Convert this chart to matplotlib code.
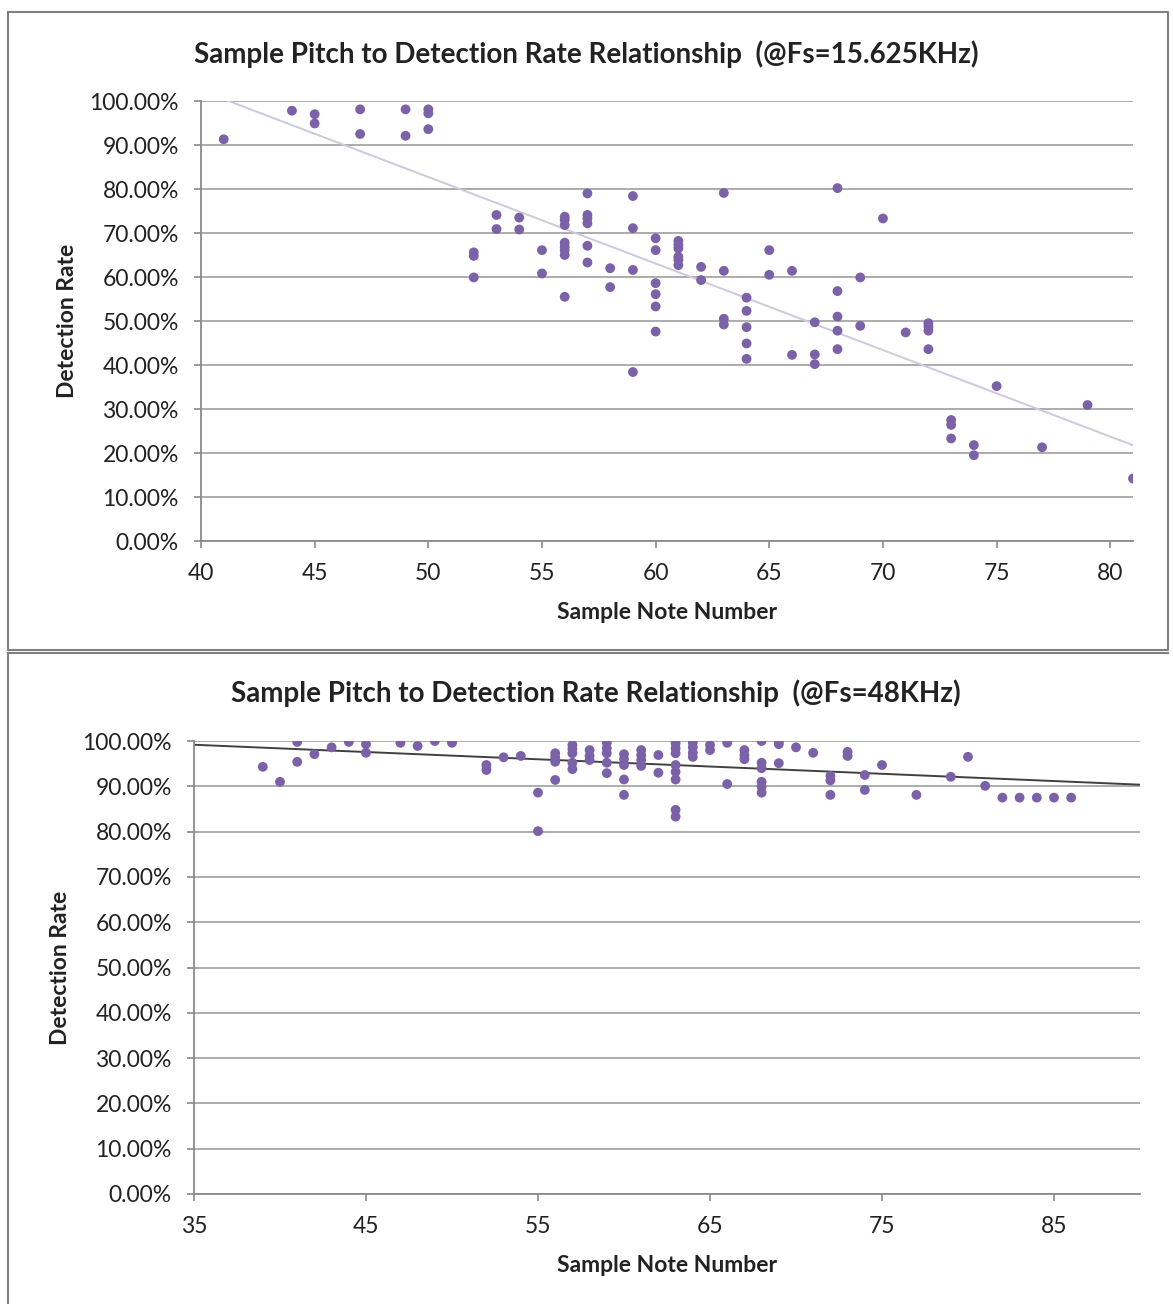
import matplotlib
matplotlib.use("Agg")
import matplotlib.pyplot as plt
import numpy as np
from matplotlib.lines import Line2D
from matplotlib.ticker import MultipleLocator, PercentFormatter

plt.rcParams["font.family"] = ["Lato", "DejaVu Sans"]

# Fs = 15.625 kHz: note number vs detection rate (%)
low_notes = [41, 44, 45, 45, 47, 47, 49, 49, 50, 50, 50,
             52, 52, 52, 53, 53, 54, 54, 55, 55,
             56, 56, 56, 56, 56, 56, 56, 56,
             57, 57, 57, 57, 57, 57, 58, 58,
             59, 59, 59, 59, 60, 60, 60, 60, 60, 60,
             61, 61, 61, 61, 61, 61, 62, 62,
             63, 63, 63, 63, 64, 64, 64, 64, 64, 65, 65,
             66, 66, 67, 67, 67, 68, 68, 68, 68, 68, 69, 69,
             70, 71, 72, 72, 72, 72, 73, 73, 73, 74, 74,
             75, 77, 79, 81]
low_rates = [91.3, 97.8, 97.0, 94.9, 98.1, 92.5, 98.1, 92.1, 98.1, 97.2, 93.6,
             65.6, 64.8, 59.9, 74.1, 70.9, 73.5, 70.8, 66.1, 60.8,
             73.7, 73.0, 71.8, 67.8, 66.9, 66.1, 65.0, 55.5,
             79.0, 74.1, 73.3, 72.2, 67.1, 63.3, 62.0, 57.7,
             78.4, 71.1, 61.6, 38.4, 68.8, 66.1, 58.6, 56.1, 53.3, 47.6,
             68.2, 67.3, 66.5, 64.6, 63.9, 62.7, 62.3, 59.3,
             79.1, 61.4, 50.5, 49.2, 55.3, 52.3, 48.6, 44.9, 41.4, 66.1, 60.5,
             61.4, 42.3, 49.7, 42.4, 40.2, 80.2, 56.8, 51.0, 47.8, 43.6, 59.9, 48.9,
             73.3, 47.4, 49.5, 48.7, 47.8, 43.6, 27.5, 26.4, 23.3, 21.8, 19.5,
             35.2, 21.3, 30.9, 14.2]

# Fs = 48 kHz
high_notes = [39, 40, 41, 41, 42, 43, 44, 45, 45, 47, 48, 49, 50, 50,
              52, 52, 53, 54, 55, 55, 56, 56, 56, 56,
              57, 57, 57, 57, 57, 58, 58, 58,
              59, 59, 59, 59, 59, 60, 60, 60, 60, 60,
              61, 61, 61, 61, 62, 62,
              63, 63, 63, 63, 63, 63, 63, 63,
              64, 64, 64, 64, 65, 65, 66, 66, 67, 67, 67,
              68, 68, 68, 68, 68, 68, 69, 69, 69, 70, 71,
              72, 72, 72, 73, 73, 74, 74, 75, 77, 79, 80, 81,
              82, 83, 84, 85, 86]
high_rates = [94.3, 91.0, 99.8, 95.4, 97.1, 98.6, 99.8, 99.3, 97.4, 99.6, 98.9, 100.0, 100.0, 99.6,
              94.7, 93.6, 96.4, 96.7, 88.6, 80.1, 97.3, 96.4, 95.4, 91.4,
              99.1, 98.2, 97.3, 95.2, 93.8, 98.0, 96.7, 95.8,
              99.6, 98.4, 97.3, 95.2, 92.9, 97.1, 96.0, 94.7, 91.5, 88.1,
              98.0, 96.9, 95.8, 94.5, 96.9, 93.0,
              99.5, 98.4, 97.3, 94.7, 93.2, 91.5, 84.8, 83.3,
              99.6, 98.6, 97.4, 96.5, 99.1, 98.0, 99.6, 90.5, 98.0, 96.9, 96.0,
              100.0, 95.2, 94.0, 91.0, 89.9, 88.6, 99.8, 99.3, 95.1, 98.6, 97.4,
              92.3, 91.3, 88.1, 97.6, 96.7, 92.5, 89.2, 94.7, 88.1, 92.1, 96.5, 90.1,
              87.5, 87.5, 87.5, 87.5, 87.5]

TITLE = "Sample Pitch to Detection Rate Relationship  (@Fs={})"

DOT = "#7b62a8"
GRID = "#a6a6a6"
AXIS = "#8a8a8a"
TXT = "#222222"

W, H = 1173, 1304
fig = plt.figure(figsize=(W / 100, H / 100), dpi=100)


def px_axes(left, top, right, bottom):
    return fig.add_axes([left / W, 1 - bottom / H, (right - left) / W, (bottom - top) / H])


def style(ax, xlim, xstep, xstart):
    ax.set_ylim(0, 100)
    ax.set_xlim(*xlim)
    ax.xaxis.set_major_locator(MultipleLocator(xstep, offset=xstart % xstep))
    ax.yaxis.set_major_locator(MultipleLocator(10))
    ax.yaxis.set_major_formatter(PercentFormatter(xmax=100, decimals=2))
    ax.grid(axis="y", color=GRID, linewidth=1.3)
    ax.set_axisbelow(True)
    for s in ("top", "right"):
        ax.spines[s].set_visible(False)
    for s in ("left", "bottom"):
        ax.spines[s].set_color(AXIS)
        ax.spines[s].set_linewidth(1.3)
    ax.tick_params(colors=AXIS, labelcolor=TXT, labelsize=16.5, length=5, width=1.2)
    ax.tick_params(axis="y", pad=11)
    ax.tick_params(axis="x", pad=11)
    ax.set_xlabel("Sample Note Number", fontsize=16.5, fontweight="bold", color=TXT, labelpad=13)
    ax.set_ylabel("Detection Rate", fontsize=16.5, fontweight="bold", color=TXT, labelpad=8)


def trend(ax, x, y, x0, x1, color):
    k, b = np.polyfit(x, y, 1)
    xs = np.array([x0, x1])
    ax.plot(xs, k * xs + b, color=color, linewidth=1.4, zorder=2)


# upper chart
ax1 = px_axes(201, 101, 1133, 541)
style(ax1, (40, 81), 5, 40)
ax1.scatter(low_notes, low_rates, s=50, color=DOT, edgecolors="none", zorder=3)
trend(ax1, low_notes, low_rates, min(low_notes), max(low_notes), "#cfc8dc")
fig.text(586 / W, 1 - 54 / H, TITLE.format("15.625KHz"), ha="center", va="center",
         fontsize=20, fontweight="bold", color=TXT)

# lower chart
ax2 = px_axes(194, 741, 1140, 1194)
style(ax2, (35, 90), 10, 35)
ax2.scatter(high_notes, high_rates, s=50, color=DOT, edgecolors="none", zorder=3)
trend(ax2, high_notes, high_rates, 35, 90, "#404040")
fig.text(596 / W, 1 - 693 / H, TITLE.format("48KHz"), ha="center", va="center",
         fontsize=20, fontweight="bold", color=TXT)

# chart frames
frame = dict(color="#7f7f7f", linewidth=1.5, transform=fig.transFigure)
fx = lambda v: v / W
fy = lambda v: 1 - v / H
fig.add_artist(Line2D([fx(8), fx(1168), fx(1168), fx(8), fx(8)],
                      [fy(12), fy(12), fy(650), fy(650), fy(12)], **frame))
fig.add_artist(Line2D([fx(8), fx(8)], [fy(653), fy(1304)], **frame))
fig.add_artist(Line2D([fx(8), fx(1168)], [fy(653), fy(653)], **frame))

fig.savefig("out.png", dpi=100)
